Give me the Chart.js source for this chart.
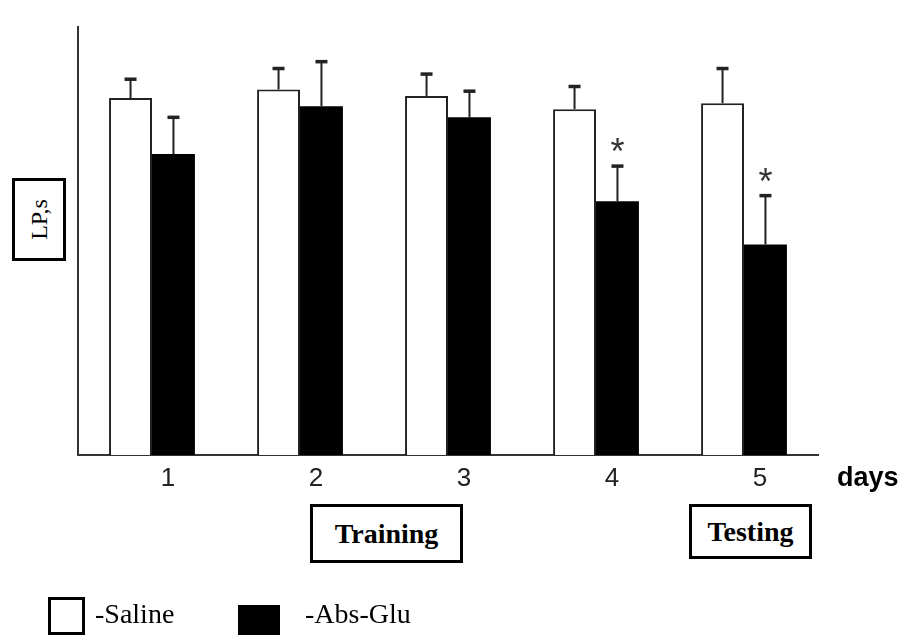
<!DOCTYPE html>
<html>
<head>
<meta charset="utf-8">
<script src="https://cdn.jsdelivr.net/npm/chart.js@4"></script>
<style>
  html, body { margin: 0; padding: 0; background: #fff; }
  #wrap { position: relative; width: 903px; height: 635px; overflow: hidden; }
  canvas { position: absolute; left: 0; top: 0; }
  .box { position: absolute; box-sizing: border-box; border: 3px solid #000; background: #fff;
         display: flex; align-items: center; justify-content: center; color: #000; }
  .serif { font-family: "Liberation Serif", "DejaVu Serif", serif; }
  .txt { position: absolute; color: #000; white-space: nowrap; line-height: 1; }
</style>
</head>
<body>
<div id="wrap">
  <canvas id="c" width="903" height="635"></canvas>
  <div class="box serif" style="left:12px;top:178px;width:54px;height:83px;">
    <span style="display:inline-block;transform:rotate(-90deg);font-size:24px;white-space:nowrap;">LP,s</span>
  </div>
  <div class="txt" style="left:837px;top:464px;font-family:'Liberation Sans',Arial,sans-serif;font-weight:bold;font-size:27px;">days</div>
  <div class="box serif" style="left:310px;top:504px;width:153px;height:59px;font-weight:bold;font-size:28px;">Training</div>
  <div class="box serif" style="left:689px;top:504px;width:123px;height:55px;font-weight:bold;font-size:28px;">Testing</div>
  <div class="box" style="left:48px;top:597px;width:37px;height:38px;"></div>
  <div class="txt serif" style="left:95px;top:600px;font-size:28px;">-Saline</div>
  <div class="box" style="left:238px;top:605px;width:42px;height:35px;background:#000;"></div>
  <div class="txt serif" style="left:305px;top:600px;font-size:28px;">-Abs-Glu</div>
</div>
<script>
const days = ['1', '2', '3', '4', '5'];
const saline = [83.4, 85.4, 83.9, 80.8, 82.2];
const salineErr = [4.4, 4.9, 5.1, 5.3, 8.1];
const absGlu = [70.3, 81.5, 78.9, 59.3, 49.2];
const absGluErr = [8.6, 10.4, 6.1, 8.2, 11.4];
const absGluSig = ['', '', '', '*', '*'];

const errorBars = {
  id: 'errorBars',
  afterDatasetsDraw(chart) {
    const ctx = chart.ctx;
    const y = chart.scales.y;
    chart.data.datasets.forEach((ds, di) => {
      const meta = chart.getDatasetMeta(di);
      meta.data.forEach((el, i) => {
        const v = ds.data[i];
        const e = ds.errors[i];
        const yTop = y.getPixelForValue(v + e);
        ctx.save();
        ctx.strokeStyle = '#222';
        ctx.lineWidth = 2;
        ctx.beginPath();
        ctx.moveTo(el.x, el.y);
        ctx.lineTo(el.x, yTop);
        ctx.stroke();
        ctx.lineWidth = 3.5;
        ctx.beginPath();
        ctx.moveTo(el.x - 6, yTop);
        ctx.lineTo(el.x + 6, yTop);
        ctx.stroke();
        if (ds.sig && ds.sig[i]) {
          ctx.fillStyle = '#333';
          ctx.font = '36px "Liberation Sans", Arial, sans-serif';
          ctx.textAlign = 'center';
          ctx.textBaseline = 'middle';
          ctx.fillText(ds.sig[i], el.x, yTop - 12);
        }
        ctx.restore();
      });
    });
  }
};

new Chart(document.getElementById('c'), {
  type: 'bar',
  data: {
    labels: days,
    datasets: [
      { label: '-Saline', data: saline, errors: salineErr,
        backgroundColor: '#fff', borderColor: '#222', borderWidth: 2, borderSkipped: 'bottom' },
      { label: '-Abs-Glu', data: absGlu, errors: absGluErr, sig: absGluSig,
        backgroundColor: '#000', borderColor: '#000', borderWidth: 0 }
    ]
  },
  options: {
    responsive: false,
    animation: false,
    layout: { padding: { left: 77, right: 85, top: 27, bottom: 0 } },
    datasets: { bar: { barPercentage: 1.0, categoryPercentage: 0.58 } },
    plugins: { legend: { display: false }, tooltip: { enabled: false } },
    scales: {
      x: {
        grid: { display: false, drawTicks: false },
        border: { display: true, color: '#333', width: 2 },
        ticks: { color: '#222', padding: 8, labelOffset: 16,
                 font: { family: '"Liberation Sans", Arial, sans-serif', size: 26 } },
        afterFit(s) { s.height = 180; }
      },
      y: {
        min: 0, max: 100,
        grid: { display: false, drawTicks: false },
        border: { display: true, color: '#333', width: 2 },
        ticks: { display: false },
        afterFit(s) { s.width = 1; }
      }
    }
  },
  plugins: [errorBars]
});
</script>
</body>
</html>
